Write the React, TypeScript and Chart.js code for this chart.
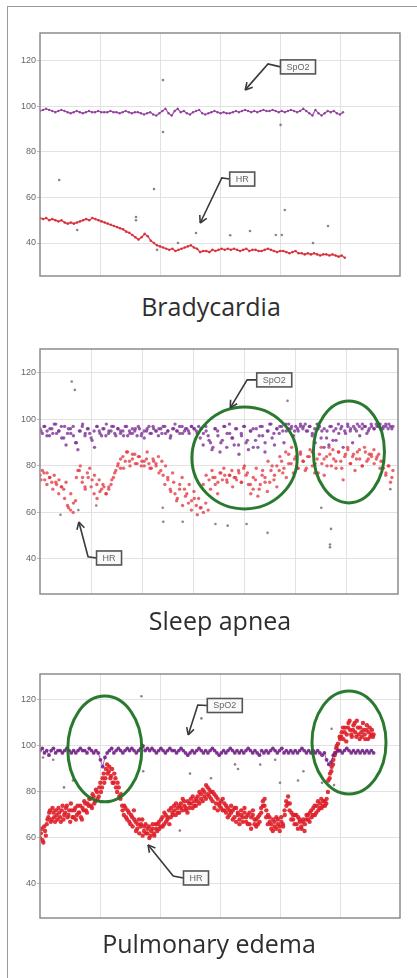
import React, { useEffect, useRef } from "react";
import { Chart, registerables } from "chart.js";
Chart.register(...registerables);

// ---------- shared ----------
const Y_TICKS = [40, 60, 80, 100, 120];
const X_GRID_6 = [1, 2, 3, 4, 5];
const X_GRID_7 = [1, 2, 3, 4, 5, 6];
const TITLES = ["Bradycardia", "Sleep apnea", "Pulmonary edema"];

// ---------- Bradycardia (x span 0 .. 5.05) ----------
const bradySpo2 = [
  98, 98.5, 99, 98.5, 98, 97.5, 98, 98.5, 98, 97.5,
  97, 97.5, 98, 97.5, 97, 97.5, 98, 97.5, 97.5, 98,
  97.5, 97.5, 97.5, 98, 97.5, 97.5, 97, 97.5, 98, 97.5,
  97, 97.5, 97.5, 97, 96.5, 97, 97.5, 96.5, 96, 97,
  98, 99, 97, 96, 98, 99, 97.5, 98, 97, 96.5,
  97.5, 98, 98.5, 97, 96.5, 97, 97.5, 98, 97.5, 97,
  97.5, 97, 97, 97.5, 98, 97.5, 98, 98.5, 98, 97.5,
  98, 97.5, 98, 98.5, 98, 98, 98.5, 98, 97.5, 98,
  97.5, 98, 98.5, 98, 97.5, 98, 99, 98, 97, 96,
  98.5, 97, 96, 97, 98, 97.5, 98, 97, 96.5, 97.5,
];
const bradyHr = [
  51, 50.5, 51, 50, 50.5, 50,
  49.5, 50, 49, 48.5, 49, 48.5, 49,
  49.5, 50, 50.5, 50, 51, 50.5, 50,
  49.5, 49, 48.5, 48, 47.5, 47,
  46.5, 46, 45, 44.5, 43.5, 42.5, 41.5,
  42.5, 44, 43, 41, 40, 39,
  38.5, 38, 37.5, 37, 37.5, 36.5, 37,
  37.5, 38, 38.5, 39, 38, 37.5, 36,
  36.5, 36.5, 36, 37, 36.5, 37, 37.5, 37,
  37.5, 37, 37.5, 37, 36.5, 37, 37.5,
  36.5, 37, 37, 36.5, 36.5, 37, 37.5, 37,
  36.5, 36, 36.5, 36.5, 36, 35.5, 36, 36.5, 35.5, 35.5,
  35, 35.5, 35, 35.5, 35, 34.5, 35, 35, 34.5, 35, 34.5, 34, 34.5, 33.5,
];
const bradyOutliers: [number, number][] = [
  [0.32, 67.7], [0.62, 45.7], [1.6, 51.4], [1.6, 50], [1.9, 63.7], [2.05, 111.6],
  [2.05, 88.8], [2.6, 44.4], [3.17, 43.4], [3.5, 45.3], [3.93, 43.5], [4.03, 43.5],
  [4.01, 91.9], [4.08, 54.5], [4.55, 40], [4.8, 47.5], [1.95, 37], [2.3, 40],
];

// ---------- Sleep apnea (x span 0 .. 6.9) ----------
const apneaSpo2 = [
  96, 94, 97, 95, 93, 96, 98, 94, 95, 97,
  92, 89, 96, 94, 97, 90, 87, 95, 98, 93,
  96, 94, 91, 88, 97, 95, 93, 96, 98, 94,
  95, 97, 93, 96, 94, 95, 97, 93, 94, 96,
  95, 93, 96, 94, 92, 95, 97, 94, 96, 95,
  93, 96, 97, 94, 95, 92, 96, 98, 95, 94,
  97, 95, 96, 94, 97, 96, 95, 97, 96, 94,
  97, 93, 90, 88, 96, 95, 86, 91, 97, 94,
  98, 92, 89, 96, 85, 94, 97, 90, 87, 95,
  96, 91, 88, 97, 93, 86, 95, 98, 92, 89,
  96, 94, 97, 90, 95, 98, 96, 93, 97, 95,
  97, 96, 98, 95, 97, 94, 96, 98, 97, 95,
  96, 92, 89, 97, 95, 91, 98, 96, 88, 94,
  97, 95, 90, 96, 98, 93, 96, 97, 94, 96,
  97, 96, 98, 97, 96, 97, 98, 96, 97, 97,
];
const apneaSpo2B = [
  95, 97, 93, 96, 94, 98, 95, 92, 97, 94,
  96, 93, 90, 95, 97, 94, 96, 92, 95, 97,
  94, 96, 93, 95, 97, 94, 96, 95, 93, 97,
  95, 94, 96, 97, 93, 95, 96, 94, 97, 95,
  96, 94, 97, 95, 93, 96, 95, 97, 94, 96,
  95, 97, 96, 94, 92, 89, 95, 91, 87, 96,
  93, 90, 97, 88, 94, 92, 96, 89, 93, 97,
  91, 95, 88, 96, 93, 97, 90, 95, 98, 94,
  96, 97, 95, 98, 96, 97, 95, 96, 98, 97,
  95, 97, 93, 90, 96, 92, 88, 95, 97, 91,
  96, 94, 97, 95, 98, 96, 97, 95, 97, 98,
  97, 95, 98, 96, 97, 98, 96, 97, 98, 96,
];
const apneaHr = [
  76, 78, 74, 77, 75, 73, 76, 72, 74, 71,
  70, 73, 62, 68, 60, 65, 78, 80, 75, 71,
  77, 79, 74, 76, 72, 74, 70, 71, 68, 70,
  72, 75, 78, 81, 79, 84, 82, 86, 80, 83,
  85, 81, 84, 82, 80, 83, 81, 79, 82, 80,
  84, 78, 76, 80, 74, 70, 77, 68, 66, 72,
  75, 70, 68, 72, 65, 69, 63, 66, 62, 60,
  64, 61, 70, 75, 72, 68, 77, 74, 76, 73,
  76, 78, 75, 74, 77, 73, 79, 76, 72, 68,
  70, 74, 67, 72, 78, 75, 69, 73, 80, 76,
  71, 78, 82, 79, 75, 85, 81, 77, 84, 79,
  86, 82, 78, 84, 87, 80, 77, 83, 85, 81,
  76, 84, 88, 80, 83, 79, 86, 82, 74, 85,
  87, 81, 84, 78, 86, 83, 80, 88, 82, 85,
  84, 87, 83, 85, 82, 79, 76, 80, 73, 78,
];
const apneaHrB = [
  74, 77, 72, 75, 70, 73, 68, 71, 66, 63,
  61, 64, 75, 78, 73, 70, 75, 71, 68, 66,
  69, 72, 68, 71, 74, 77, 80, 83, 79, 86,
  82, 85, 81, 84, 80, 82, 86, 79, 83, 81,
  77, 82, 72, 75, 69, 73, 65, 70, 63, 67,
  64, 61, 66, 59, 62, 72, 76, 74, 78, 75,
  73, 77, 79, 74, 76, 71, 75, 78, 73, 80,
  77, 72, 75, 79, 70, 76, 73, 82, 78, 74,
  80, 84, 77, 86, 81, 88, 83, 79, 85, 82,
  79, 84, 86, 81, 77, 88, 83, 80, 85, 87,
  82, 86, 79, 84, 88, 81, 85, 83, 87, 80,
  86, 83, 85, 81, 84, 79, 82, 77, 80, 75,
];
const apneaOutliers: [number, number][] = [
  [0.62, 116.3], [0.68, 112.7], [4.84, 108], [2.41, 56], [2.79, 56], [3.43, 55],
  [3.67, 54.3], [4.04, 55], [4.45, 51.2], [5.69, 52.9], [5.67, 46.2], [5.67, 45],
  [0.4, 59], [0.75, 61], [1.1, 63], [5.5, 62], [6.85, 70], [2.4, 62],
];

// ---------- Pulmonary edema (x span 0 .. 5.56) ----------
const pulmSpo2 = [
  98, 99, 97, 98, 96, 98, 99, 97, 98, 98,
  97, 98, 99, 98, 97, 98, 97, 98, 99, 98,
  98, 97, 99, 98, 97, 98, 97, 94, 91, 95,
  97, 98, 99, 97, 98, 99, 98, 97, 98, 99,
  98, 99, 98, 97, 98, 99, 100, 98, 99, 98,
  99, 98, 97, 98, 99, 98, 97, 98, 99, 98,
  98, 97, 98, 99, 98, 97, 96, 97, 98, 97,
  98, 99, 98, 97, 98, 97, 98, 99, 98, 97,
  96, 97, 98, 97, 98, 99, 98, 97, 98, 97,
  98, 97, 98, 99, 98, 97, 98, 97, 96, 98,
  97, 98, 97, 98, 99, 98, 97, 98, 99, 97,
  98, 97, 98, 97, 98, 97, 98, 99, 98, 97,
  98, 97, 98, 97, 98, 97, 96, 97, 94, 92,
  93, 96, 97, 98, 98, 97, 98, 99, 98, 97,
  98, 97, 98, 97, 98, 97, 98, 97, 98, 97,
];
const pulmHr = [
  60, 64, 58, 63, 66, 69, 72, 68, 71, 67,
  70, 73, 69, 72, 68, 71, 74, 70, 67, 72,
  69, 73, 70, 71, 74, 68, 72, 75, 71, 74,
  77, 73, 78, 76, 80, 78, 84, 82, 88, 86,
  92, 89, 86, 90, 84, 86, 80, 82, 77, 74,
  70, 73, 68, 71, 66, 69, 72, 67, 64, 68,
  65, 68, 63, 66, 62, 65, 61, 64, 62, 66,
  63, 67, 65, 69, 66, 70, 68, 72, 69, 71,
  74, 70, 73, 71, 75, 72, 76, 73, 71, 75,
  77, 73, 76, 74, 78, 75, 79, 76, 80, 77,
  82, 78, 80, 76, 79, 75, 77, 74, 76, 72,
  75, 71, 73, 70, 74, 72, 69, 73, 70, 68,
  72, 69, 71, 67, 70, 66, 69, 72, 68, 65,
  69, 67, 71, 74, 77, 72, 70, 67, 64, 68,
  65, 69, 66, 63, 67, 65, 70, 74, 78, 75,
  71, 68, 70, 66, 69, 67, 64, 68, 66, 70,
  68, 71, 69, 73, 70, 74, 72, 75, 73, 76,
  74, 77, 85, 88, 91, 94, 97, 100, 98, 103,
  106, 103, 108, 105, 110, 107, 104, 109, 106, 111,
  105, 108, 104, 107, 103, 109, 106, 104, 107, 105,
];
const pulmHrB = [
  62, 59, 65, 61, 68, 71, 67, 73, 69, 72,
  68, 71, 67, 74, 70, 73, 69, 72, 75, 69,
  72, 68, 74, 71, 69, 73, 76, 72, 75, 77,
  74, 79, 75, 81, 77, 82, 80, 86, 84, 90,
  88, 91, 87, 84, 88, 82, 84, 78, 79, 72,
  74, 69, 72, 67, 70, 65, 68, 63, 66, 62,
  66, 61, 65, 62, 64, 60, 63, 66, 61, 64,
  66, 64, 68, 65, 71, 67, 69, 66, 73, 70,
  72, 75, 71, 74, 73, 77, 74, 72, 76, 73,
  75, 78, 74, 77, 76, 80, 77, 81, 78, 83,
  79, 81, 77, 80, 73, 78, 72, 75, 73, 77,
  72, 74, 69, 72, 71, 68, 73, 67, 71, 66,
  70, 67, 73, 69, 66, 71, 64, 70, 66, 68,
  66, 70, 73, 76, 74, 69, 66, 69, 66, 63,
  67, 64, 68, 65, 69, 66, 72, 76, 75, 72,
  68, 70, 66, 70, 64, 68, 65, 67, 63, 68,
  70, 67, 72, 70, 74, 71, 76, 73, 77, 74,
  76, 75, 80, 86, 89, 92, 96, 99, 101, 104,
  104, 108, 106, 102, 108, 111, 105, 107, 110, 104,
  108, 103, 106, 110, 105, 107, 103, 108, 105, 104,
];
const pulmOutliers: [number, number][] = [
  [1.69, 121.6], [2.69, 112], [4.86, 107.5], [2.33, 63.2], [3.67, 91.9], [3.92, 94],
  [4.39, 89], [1.72, 89], [0.22, 94], [0.4, 82], [0.55, 85], [2.5, 88], [2.85, 86],
  [3.3, 90], [4.0, 84], [4.3, 85], [4.7, 84], [4.9, 83], [0.05, 95], [3.25, 92],
];

// ---------- annotations (data coordinates) ----------
type Callout = { text: string; box: [number, number]; path: [number, number][] };
const bradyCallouts: Callout[] = [
  { text: "SpO2", box: [4.3, 117.4], path: [[3.8, 118.7], [3.42, 107.3]] },
  { text: "HR", box: [3.37, 68.1], path: [[3.03, 68.6], [2.67, 48.8]] },
];
const apneaCallouts: Callout[] = [
  { text: "SpO2", box: [4.58, 117], path: [[4.05, 117], [3.72, 105]] },
  { text: "HR", box: [1.35, 40.4], path: [[0.94, 40.9], [0.76, 55.9]] },
];
const pulmCallouts: Callout[] = [
  { text: "SpO2", box: [3.08, 117.6], path: [[2.63, 117.8], [2.47, 104.8]] },
  { text: "HR", box: [2.6, 42.6], path: [[2.22, 43.5], [1.8, 57]] },
];
const apneaEllipses: [number, number, number, number][] = [
  [4.0, 83.4, 1.03, 21.9],
  [6.04, 86, 0.695, 21.9],
];
const pulmEllipses: [number, number, number, number][] = [
  [1.08, 98.7, 0.617, 23],
  [5.15, 101.5, 0.617, 22.4],
];

const toPoints = (vals: number[], x0: number, x1: number) =>
  vals.map((v, i) => ({ x: x0 + ((x1 - x0) * i) / (vals.length - 1), y: v }));
const pairPoints = (pairs: [number, number][]) => pairs.map(([x, y]) => ({ x, y }));

const overlayPlugin = {
  id: "overlay",
  afterDatasetsDraw(chart: any, _args: any, opts: any) {
    const { ctx, chartArea, scales } = chart;
    const xs = scales.x;
    const ys = scales.y;
    ctx.save();
    ctx.strokeStyle = "#8c8c8c";
    ctx.lineWidth = 1.5;
    ctx.strokeRect(chartArea.left, chartArea.top, chartArea.right - chartArea.left, chartArea.bottom - chartArea.top);

    for (const [cx, cy, rx, ry] of opts.ellipses || []) {
      const px = xs.getPixelForValue(cx);
      const py = ys.getPixelForValue(cy);
      const prx = Math.abs(xs.getPixelForValue(cx + rx) - px);
      const pry = Math.abs(ys.getPixelForValue(cy + ry) - py);
      ctx.beginPath();
      ctx.ellipse(px, py, prx, pry, 0, 0, Math.PI * 2);
      ctx.strokeStyle = "rgba(30,115,35,0.95)";
      ctx.lineWidth = 3;
      ctx.stroke();
    }

    for (const c of (opts.callouts || []) as Callout[]) {
      ctx.font = "9px 'Liberation Sans'";
      const tw = ctx.measureText(c.text).width;
      const w = tw + 12;
      const h = 14;
      const bx = xs.getPixelForValue(c.box[0]);
      const by = ys.getPixelForValue(c.box[1]);
      const pts = [[bx - w / 2, by], ...c.path.map(([x, y]) => [xs.getPixelForValue(x), ys.getPixelForValue(y)])];
      ctx.strokeStyle = "#3a3a3a";
      ctx.lineWidth = 1.6;
      ctx.beginPath();
      ctx.moveTo(pts[0][0], pts[0][1]);
      for (let i = 1; i < pts.length; i++) ctx.lineTo(pts[i][0], pts[i][1]);
      ctx.stroke();
      const [ex, ey] = pts[pts.length - 2];
      const [tx, ty] = pts[pts.length - 1];
      const ang = Math.atan2(ty - ey, tx - ex);
      ctx.beginPath();
      for (const s of [-1, 1]) {
        ctx.moveTo(tx, ty);
        ctx.lineTo(tx - 8 * Math.cos(ang + s * 0.5), ty - 8 * Math.sin(ang + s * 0.5));
      }
      ctx.stroke();
      ctx.fillStyle = "#fafafa";
      ctx.fillRect(bx - w / 2, by - h / 2, w, h);
      ctx.strokeStyle = "#555";
      ctx.lineWidth = 1.6;
      ctx.strokeRect(bx - w / 2, by - h / 2, w, h);
      ctx.fillStyle = "#666";
      ctx.textAlign = "center";
      ctx.textBaseline = "middle";
      ctx.fillText(c.text, bx, by + 0.5);
    }
    ctx.restore();
  },
};

type PanelProps = {
  datasets: any[];
  xMax: number;
  xGrid: number[];
  yMin: number;
  yMax: number;
  plotTop: number;
  plotBottom: number;
  plotRight: number;
  callouts: Callout[];
  ellipses: [number, number, number, number][];
};

function Panel(p: PanelProps) {
  const ref = useRef<HTMLCanvasElement>(null);
  const pad = 10;
  const height = p.plotBottom - p.plotTop + pad * 2;
  useEffect(() => {
    if (!ref.current) return;
    const chart = new Chart(ref.current, {
      type: "scatter",
      data: { datasets: p.datasets },
      plugins: [overlayPlugin],
      options: {
        responsive: false,
        animation: false,
        events: [],
        layout: { padding: { left: 0, right: 417 - p.plotRight, top: pad, bottom: pad } },
        plugins: {
          legend: { display: false },
          tooltip: { enabled: false },
          overlay: { callouts: p.callouts, ellipses: p.ellipses },
        } as any,
        scales: {
          x: {
            type: "linear",
            min: 0,
            max: p.xMax,
            afterBuildTicks: (s: any) => {
              s.ticks = p.xGrid.map((v) => ({ value: v }));
            },
            afterFit: (s: any) => {
              s.height = 0;
            },
            ticks: { display: false },
            grid: { color: "#e2e2e2", drawTicks: false },
            border: { display: false },
          },
          y: {
            min: p.yMin,
            max: p.yMax,
            afterBuildTicks: (s: any) => {
              s.ticks = Y_TICKS.map((v) => ({ value: v }));
            },
            afterFit: (s: any) => {
              s.width = 40;
            },
            ticks: { color: "#666", padding: 1, font: { size: 9, family: "'Liberation Sans'" } },
            grid: { color: "#e2e2e2", tickLength: 3, tickColor: "#bbb" },
            border: { display: false },
          },
        },
      },
    });
    return () => chart.destroy();
  }, []);
  return (
    <canvas
      ref={ref}
      width={417}
      height={height}
      style={{ position: "absolute", left: 0, top: p.plotTop - pad, width: 417, height }}
    />
  );
}

const GREY = "rgba(120,95,115,0.8)";

const lineSet = (data: any[], color: string, bw: number, r: number) => ({
  data,
  showLine: true,
  borderColor: color,
  backgroundColor: color,
  borderWidth: bw,
  pointRadius: r,
  pointBorderWidth: 0,
});
const dotSet = (data: any[], color: string, r: number) => ({
  data,
  showLine: false,
  backgroundColor: color,
  borderColor: color,
  pointRadius: r,
  pointBorderWidth: 0,
});

const titleStyle = (center: number, baseline: number): React.CSSProperties => ({
  position: "absolute",
  left: center - 160,
  width: 320,
  top: baseline - 22,
  textAlign: "center",
  fontFamily: "'Open Sans', Lato, sans-serif",
  fontSize: 25,
  lineHeight: "25px",
  color: "#2e2e2e",
  whiteSpace: "nowrap",
});

export default function App() {
  return (
    <div style={{ position: "absolute", left: 0, top: 0, width: 417, height: 978, background: "#fff", overflow: "hidden" }}>
      <div style={{ position: "absolute", left: 7, top: 6, width: 420, height: 990, borderLeft: "1.5px solid #9a9a9a", borderTop: "1.5px solid #9a9a9a" }} />
      <Panel
        datasets={[
          dotSet(pairPoints(bradyOutliers), GREY, 1.3),
          lineSet(toPoints(bradySpo2, 0, 5.05), "rgba(140,55,150,0.85)", 1.2, 1.2),
          lineSet(toPoints(bradyHr, 0, 5.08), "rgba(215,40,50,0.85)", 1.4, 1.3),
        ]}
        xMax={6}
        xGrid={X_GRID_6}
        yMin={25.5}
        yMax={132.3}
        plotTop={33}
        plotBottom={276}
        plotRight={400}
        callouts={bradyCallouts}
        ellipses={[]}
      />
      <div style={titleStyle(211, 316)}>{TITLES[0]}</div>
      <Panel
        datasets={[
          dotSet(pairPoints(apneaOutliers), GREY, 1.3),
          dotSet(toPoints(apneaSpo2, 0, 6.9), "rgba(125,50,150,0.8)", 1.7),
          dotSet(toPoints(apneaSpo2B, 0.02, 6.88), "rgba(125,50,150,0.8)", 1.7),
          dotSet(toPoints(apneaHr, 0, 6.9), "rgba(228,50,60,0.75)", 1.7),
          dotSet(toPoints(apneaHrB, 0.02, 6.88), "rgba(228,50,60,0.75)", 1.7),
        ]}
        xMax={7}
        xGrid={X_GRID_7}
        yMin={24.9}
        yMax={130.3}
        plotTop={349}
        plotBottom={594}
        plotRight={398}
        callouts={apneaCallouts}
        ellipses={apneaEllipses}
      />
      <div style={titleStyle(220, 630)}>{TITLES[1]}</div>
      <Panel
        datasets={[
          dotSet(pairPoints(pulmOutliers), GREY, 1.3),
          lineSet(toPoints(pulmSpo2, 0, 5.56), "rgba(115,35,135,0.9)", 0.8, 1.9),
          dotSet(toPoints(pulmHr, 0, 5.56), "rgba(222,30,40,0.9)", 2.2),
          dotSet(toPoints(pulmHrB, 0.014, 5.55), "rgba(222,30,40,0.9)", 2.2),
        ]}
        xMax={6}
        xGrid={X_GRID_6}
        yMin={25.2}
        yMax={131.3}
        plotTop={674}
        plotBottom={918}
        plotRight={400}
        callouts={pulmCallouts}
        ellipses={pulmEllipses}
      />
      <div style={titleStyle(209, 953)}>{TITLES[2]}</div>
    </div>
  );
}
